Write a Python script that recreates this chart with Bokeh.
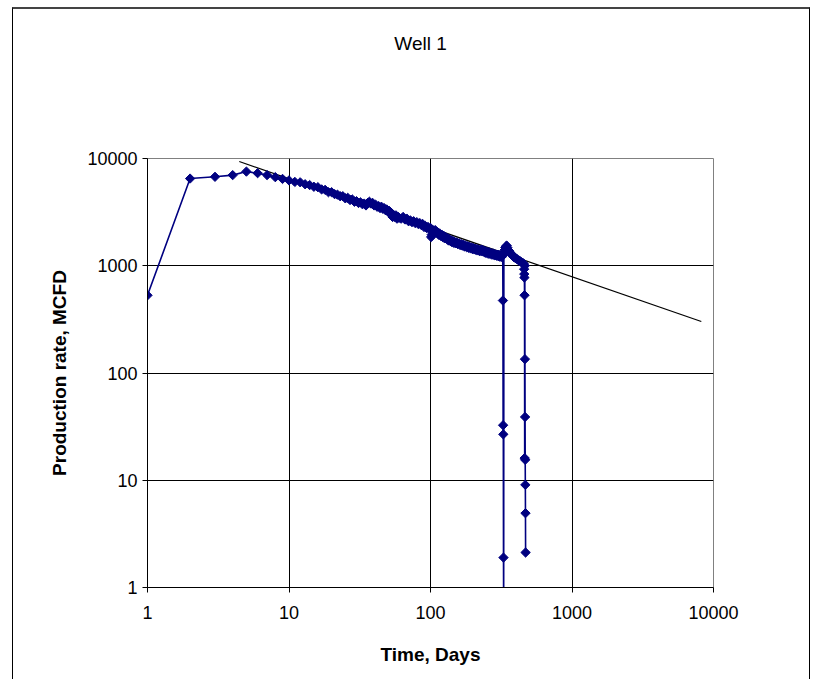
from bokeh.plotting import figure
from bokeh.layouts import column
from bokeh.models import FixedTicker, NumeralTickFormatter, Range1d
from bokeh.core.properties import value
from bokeh.embed import file_html
from bokeh.resources import INLINE

# ---- data ----
days = [1, 2, 3, 4, 5, 6, 7, 8, 9,
        10, 11, 12, 13, 14, 15, 16, 17, 18, 19, 20, 21, 22, 23, 24, 25, 26, 27, 28, 29,
        30, 31, 32, 33, 34, 35, 36, 37, 38, 39, 40, 41, 42, 43, 44, 45, 46, 47, 48, 49,
        50, 51, 52, 53, 54, 55, 56, 57, 58, 59, 60, 62, 64, 66, 68, 70, 72, 74, 76, 78,
        80, 82, 84, 86, 88, 90, 92, 94, 96, 98, 100, 101, 102, 104, 106, 108, 110, 112, 114, 116,
        118, 120, 122, 124, 126, 128, 130, 132, 134, 136, 138, 140, 142, 144, 146, 148, 150, 153, 156, 159,
        162, 165, 168, 171, 174, 177, 180, 183, 186, 189, 192, 195, 198, 201, 204, 207, 210, 213, 216, 219,
        222, 225, 228, 231, 234, 237, 240, 243, 246, 249, 252, 255, 258, 261, 264, 267, 270, 273, 276, 279,
        282, 285, 288, 291, 294, 297, 300, 303, 306, 309, 312, 315, 318, 321, 324,
        325, 326, 327, 328, 329, 330,
        334, 338, 342, 346, 350, 355, 360, 365, 370, 375, 380, 385, 390, 395, 400, 410, 420, 430, 440, 450,
        456, 459, 460, 461, 462, 463, 464, 465, 466, 467, 468, 469, 470]
rate = [530, 6500, 6750, 7000, 7550, 7300, 7000, 6700, 6450,
        6250, 6050, 6000, 5750, 5650, 5450, 5400, 5150, 5100, 4850, 4850, 4650, 4600, 4450, 4450, 4250, 4300, 4100, 4150, 3950,
        4000, 3850, 3900, 3750, 3800, 3650, 3850, 3950, 3800, 3850, 3650, 3700, 3550, 3600, 3450, 3550, 3400, 3450, 3300, 3350,
        3200, 3250, 3050, 3100, 2850, 2950, 2850, 2950, 2750, 2850, 2800, 2750, 2850, 2700, 2750, 2600, 2650, 2550, 2600, 2500,
        2550, 2450, 2500, 2400, 2450, 2300, 2350, 2250, 2300, 2200, 2250, 1850, 1950, 2150, 2100, 2150, 2050, 2050, 1950, 2000,
        1900, 1950, 1850, 1900, 1800, 1850, 1780, 1800, 1720, 1760, 1700, 1720, 1660, 1700, 1640, 1670, 1620, 1650, 1590, 1620,
        1560, 1590, 1540, 1570, 1510, 1540, 1490, 1520, 1470, 1500, 1450, 1480, 1430, 1460, 1420, 1440, 1400, 1430, 1390, 1410,
        1370, 1400, 1370, 1410, 1360, 1380, 1340, 1370, 1320, 1350, 1310, 1340, 1300, 1330, 1290, 1310, 1280, 1300, 1270, 1290,
        1260, 1280, 1250, 1270, 1240, 1260, 1240, 1260, 1220, 1250, 1220, 1240, 1210, 1240, 1250,
        474, 32.6, 26.8, 1.9, 0.5, 1320,
        1400, 1480, 1520, 1540, 1470, 1400, 1370, 1330, 1300, 1270, 1250, 1220, 1200, 1190, 1180, 1150, 1120, 1100, 1080, 1060,
        1040, 929, 836, 776, 531, 16.1, 1000, 134.6, 38.9, 15.5, 9.06, 4.93, 2.12]

trend_days = [4.45, 8200]
trend_rate = [9380, 302]

axis_ticks = [1, 10, 100, 1000, 10000]

title_text = "Well 1"
x_title = "Time, Days"
y_title = "Production rate, MCFD"

FONT = "Liberation Sans"
TITLE_H = 60

# ---- title strip (its own small figure, no axes) ----
tfig = figure(width=796, height=TITLE_H, x_range=Range1d(0, 796), y_range=Range1d(0, TITLE_H),
              output_backend="svg", toolbar_location=None,
              x_axis_location=None, y_axis_location=None, min_border=0)
tfig.grid.visible = False
tfig.outline_line_color = None
tfig.background_fill_color = "white"
tfig.border_fill_color = "white"
tfig.text(x=[384], y=[TITLE_H - 34], text=[title_text], text_font=value(FONT),
          text_font_size="19px", text_align="center", text_baseline="middle",
          text_color="black")

# ---- main log-log chart ----
p = figure(width=796, height=672 - TITLE_H,
           x_axis_type="log", y_axis_type="log",
           x_range=Range1d(1, 10000), y_range=Range1d(1, 10000),
           output_backend="svg", toolbar_location=None,
           min_border_left=134, min_border_right=96,
           min_border_top=149 - TITLE_H, min_border_bottom=94)

p.background_fill_color = "white"
p.border_fill_color = "white"
p.outline_line_color = "#808080"
p.outline_line_width = 1

for ax in (p.xaxis, p.yaxis):
    ax.ticker = FixedTicker(ticks=axis_ticks)
    ax.formatter = NumeralTickFormatter(format="0")
    ax.axis_line_color = "black"
    ax.axis_line_width = 1
    ax.major_tick_line_color = "black"
    ax.major_tick_out = 5
    ax.major_tick_in = 0
    ax.minor_tick_line_color = None
    ax.major_label_text_font = FONT
    ax.major_label_text_font_size = "18px"
    ax.major_label_text_color = "black"
    ax.axis_label_text_font = FONT
    ax.axis_label_text_font_style = "bold"
    ax.axis_label_text_font_size = "19px"
    ax.axis_label_text_color = "black"

p.xaxis.axis_label = x_title
p.yaxis.axis_label = y_title
p.xaxis.major_label_standoff = 13
p.yaxis.major_label_standoff = 5
p.xaxis.axis_label_standoff = 22
p.yaxis.axis_label_standoff = 14

for g in (p.xgrid, p.ygrid):
    g.ticker = FixedTicker(ticks=axis_ticks)
    g.grid_line_color = "black"
    g.grid_line_width = 1
    g.grid_line_alpha = 1.0

p.line(trend_days, trend_rate, line_color="black", line_width=1.2)
p.line(days, rate, line_color="#000080", line_width=1.6)
p.scatter(days, rate, marker="square", angle=0.785398, size=6.6,
          fill_color="#000080", line_color="#000080")

layout = column(tfig, p, spacing=0)
layout.styles = {"margin-left": "12px", "margin-top": "7px",
                 "border-left": "1px solid #000000",
                 "border-top": "2px solid #444444",
                 "border-right": "1px solid #000000"}

open("out.html", "w").write(file_html(layout, INLINE))
